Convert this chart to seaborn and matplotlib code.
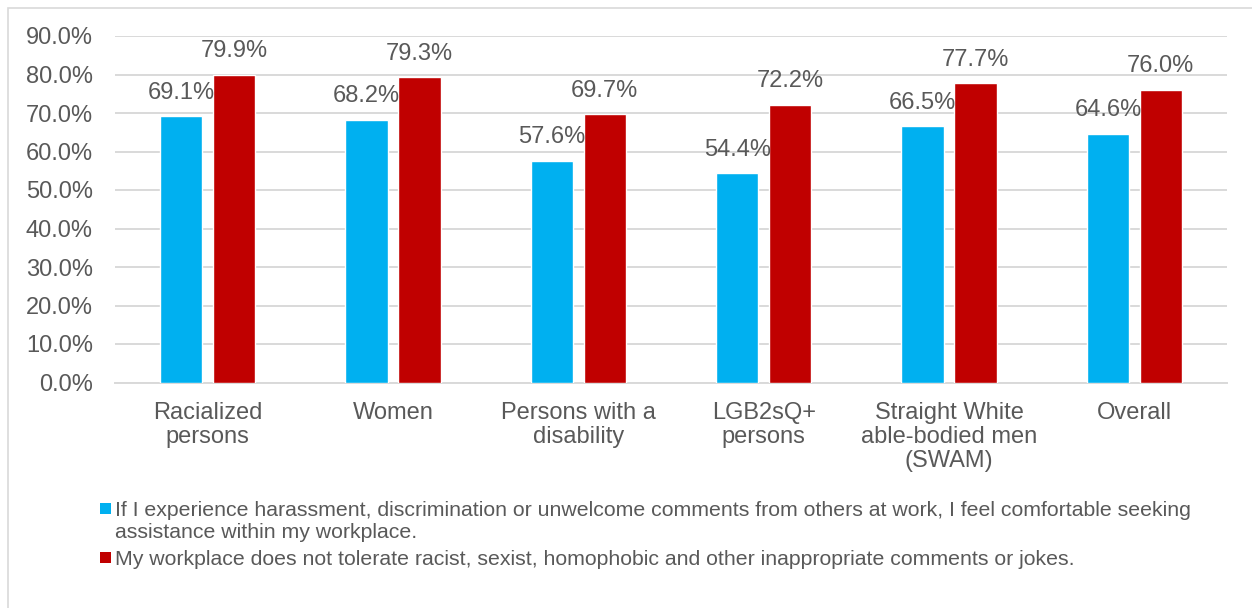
import pandas as pd
import numpy as np
import matplotlib.pyplot as plt
import seaborn as sns
from matplotlib.patches import Rectangle

groups = ['Racialized\npersons', 'Women', 'Persons with a\ndisability',
          'LGB2sQ+\npersons', 'Straight White\nable-bodied men\n(SWAM)', 'Overall']
seek_help = [69.1, 68.2, 57.6, 54.4, 66.5, 64.6]
not_tolerate = [79.9, 79.3, 69.7, 72.2, 77.7, 76.0]
series = ['If I experience harassment, discrimination or unwelcome comments from others at work, I feel comfortable seeking\nassistance within my workplace.',
          'My workplace does not tolerate racist, sexist, homophobic and other inappropriate comments or jokes.']
colors = ['#00B0F0', '#C00000']

df = pd.DataFrame({
    'group': groups * 2,
    'value': seek_help + not_tolerate,
    'series': [series[0]] * len(groups) + [series[1]] * len(groups),
})

sns.set_style('white')
plt.rcParams['font.family'] = ['Liberation Sans', 'DejaVu Sans']
txt = '#595959'

W, H = 1252, 608
fig = plt.figure(figsize=(W / 100, H / 100), dpi=100)
ax = fig.add_axes([115 / W, 1 - 382.5 / H, (1227 - 115) / W, (382.5 - 36) / H])

sns.barplot(data=df, x='group', y='value', hue='series', palette=colors,
            width=0.57, gap=0.2, saturation=1, ax=ax, legend=False, zorder=3)

for c in ax.containers:
    ax.bar_label(c, fmt='{:.1f}%', padding=9, fontsize=17, color=txt)

ax.set_ylim(0, 90)
ax.set_xlim(-0.5, 5.5)
ax.set_yticks(np.arange(0, 91, 10))
ax.set_yticklabels([f'{v:.1f}%' for v in np.arange(0, 91, 10)])
ax.grid(axis='y', color='#D9D9D9', lw=1.4, zorder=0)
ax.set_axisbelow(True)
for s in ['top', 'right', 'left']:
    ax.spines[s].set_visible(False)
ax.spines['bottom'].set_color('#D9D9D9')
ax.spines['bottom'].set_linewidth(1.4)
ax.tick_params(axis='both', length=0, labelsize=17, labelcolor=txt)
ax.tick_params(axis='x', pad=14)
ax.tick_params(axis='y', pad=16)
for t in ax.get_xticklabels():
    t.set_linespacing(1.12)
ax.set_xlabel('')
ax.set_ylabel('')

# legend drawn by hand so the square sits on the first line of each entry
base = 516
for col, label in zip(colors, series):
    fig.patches.append(Rectangle((100 / W, 1 - (base - 2) / H), 11 / W, 11 / H,
                                 transform=fig.transFigure, facecolor=col, edgecolor='none'))
    for line in label.split('\n'):
        fig.text(115 / W, 1 - base / H, line, fontsize=15.3, color=txt, va='baseline')
        base += 22
    base += 5

fig.patches.append(Rectangle((8 / W, -0.1), 1.2, 1 - 8 / H + 0.1, transform=fig.transFigure,
                             fill=False, edgecolor='#D9D9D9', lw=1.2))

fig.savefig('out.png', dpi=100)
